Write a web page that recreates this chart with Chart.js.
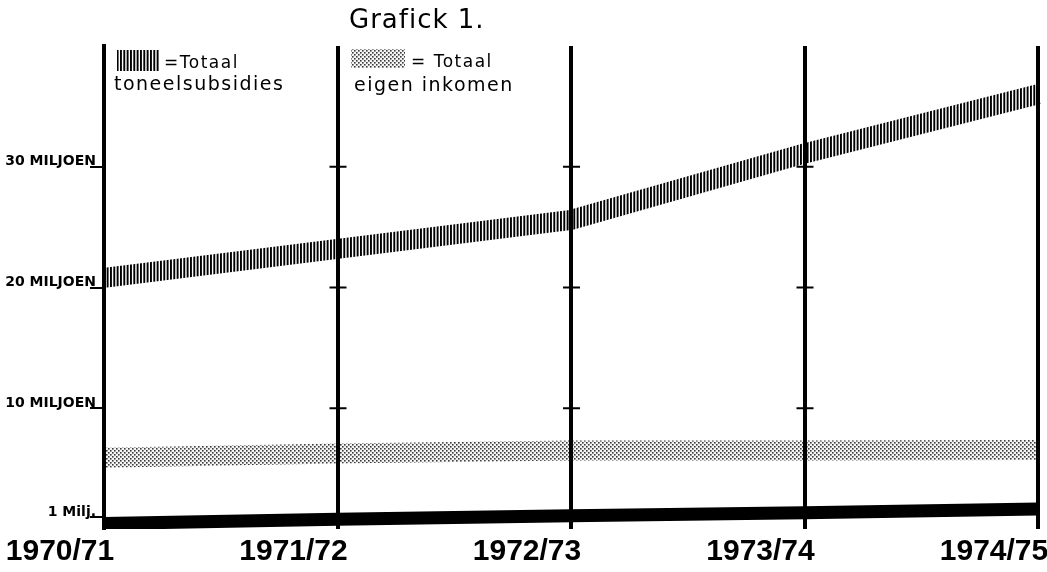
<!DOCTYPE html>
<html>
<head>
<meta charset="utf-8">
<script src="https://cdn.jsdelivr.net/npm/chart.js@4.4.1/dist/chart.umd.min.js"></script>
<style>
  html, body { margin: 0; padding: 0; background: #fff; }
  #wrap { width: 1047px; height: 572px; }
</style>
</head>
<body>
<div id="wrap"><canvas id="grafiek"></canvas></div>
<script>
// seizoenen
const seizoenen = ["1970/71", "1971/72", "1972/73", "1973/74", "1974/75"];
const toneelsubsidies = [20.8, 23.2, 25.6, 31.1, 36.0];
const eigenInkomen = [5.9, 6.25, 6.5, 6.5, 6.55];
const onderlijn = [0.45, 0.8, 1.1, 1.35, 1.65];
// y-as
const yTickWaarden = [1, 10, 20, 30];
const yTickTeksten = ["1 Milj.", "10 MILJOEN", "20 MILJOEN", "30 MILJOEN"];

const handFont = "'DejaVu Sans', sans-serif";

function maakStrepen() {
  let c = document.createElement("canvas");
  c.width = 10;
  c.height = 4;
  let ctx = c.getContext("2d");
  ctx.fillStyle = "#fff";
  ctx.fillRect(0, 0, 10, 4);
  ctx.fillStyle = "#000";
  ctx.fillRect(0, 0, 1.9, 4);
  ctx.fillRect(3.33, 0, 1.9, 4);
  ctx.fillRect(6.67, 0, 1.9, 4);
  return ctx.createPattern(c, "repeat");
}

function maakStippen() {
  let c = document.createElement("canvas");
  c.width = 4;
  c.height = 4;
  let ctx = c.getContext("2d");
  ctx.fillStyle = "#f4f4f4";
  ctx.fillRect(0, 0, 4, 4);
  ctx.fillStyle = "#3a3a3a";
  ctx.fillRect(0, 0, 1.6, 1.6);
  ctx.fillRect(2, 2, 1.6, 1.6);
  return ctx.createPattern(c, "repeat");
}

const strepen = maakStrepen();
const stippen = maakStippen();

// kleine dwarsstreepjes op de binnenste lijnen + titel + legenda
const extraTekening = {
  id: "extraTekening",
  afterDatasetsDraw(chart) {
    let ctx = chart.ctx;
    let x = chart.scales.x;
    let y = chart.scales.y;
    ctx.save();
    ctx.strokeStyle = "#000";
    ctx.lineWidth = 2;
    for (let i = 1; i < seizoenen.length - 1; i++) {
      let px = x.getPixelForValue(i);
      for (let v of [10, 20, 30]) {
        let py = y.getPixelForValue(v);
        ctx.beginPath();
        ctx.moveTo(px - 8, py);
        ctx.lineTo(px + 9, py);
        ctx.stroke();
      }
    }
    ctx.restore();
  },
  afterDraw(chart) {
    let ctx = chart.ctx;
    ctx.save();
    ctx.fillStyle = "#000";
    ctx.textBaseline = "alphabetic";
    ctx.font = "26px " + handFont;
    ctx.letterSpacing = "1px";
    ctx.textAlign = "left";
    ctx.fillText("Grafick 1.", 349, 28);

    ctx.fillStyle = strepen;
    ctx.fillRect(117, 50, 42, 21);
    ctx.fillStyle = stippen;
    ctx.fillRect(351, 49, 54, 19);

    ctx.fillStyle = "#000";
    ctx.letterSpacing = "1.5px";
    ctx.font = "17px " + handFont;
    ctx.fillText("=Totaal", 164, 68);
    ctx.fillText("= Totaal", 411, 67);
    ctx.font = "19px " + handFont;
    ctx.fillText("toneelsubsidies", 114, 90);
    ctx.fillText("eigen inkomen", 354, 91);
    ctx.restore();
  },
};

new Chart(document.getElementById("grafiek"), {
  type: "line",
  data: {
    labels: seizoenen,
    datasets: [
      {
        label: "Totaal toneelsubsidies",
        data: toneelsubsidies,
        borderColor: strepen,
        backgroundColor: "transparent",
        borderWidth: 20,
        borderCapStyle: "butt",
        pointRadius: 0,
        tension: 0,
        fill: false,
      },
      {
        label: "Totaal eigen inkomen",
        data: eigenInkomen,
        borderColor: stippen,
        backgroundColor: "transparent",
        borderWidth: 20,
        borderCapStyle: "butt",
        pointRadius: 0,
        tension: 0,
        fill: false,
      },
      {
        label: "1 Milj.",
        data: onderlijn,
        borderColor: "#000",
        backgroundColor: "transparent",
        borderWidth: 13,
        borderCapStyle: "butt",
        pointRadius: 0,
        tension: 0,
        fill: false,
      },
    ],
  },
  options: {
    responsive: true,
    maintainAspectRatio: false,
    animation: false,
    layout: {
      padding: { top: 46, right: 9, left: 0, bottom: 0 },
    },
    plugins: {
      legend: { display: false },
      tooltip: { enabled: false },
    },
    scales: {
      x: {
        offset: false,
        grid: {
          color: "#000",
          lineWidth: 4,
          drawTicks: false,
          z: 1,
        },
        border: { display: false },
        ticks: {
          color: "#000",
          font: { family: "'Liberation Sans', Arial, sans-serif", size: 30, weight: "bold" },
          maxRotation: 0,
          autoSkip: false,
          labelOffset: -44,
          padding: 5,
        },
        afterFit(scale) {
          scale.paddingLeft = 0;
          scale.paddingRight = 0;
          scale.height = 43;
        },
      },
      y: {
        min: 0,
        max: 40,
        afterBuildTicks(scale) {
          scale.ticks = yTickWaarden.map((v) => ({ value: v }));
        },
        grid: {
          drawOnChartArea: false,
          color: "#000",
          lineWidth: 2,
          tickLength: 14,
        },
        border: { display: true, color: "#000", width: 4, z: 1 },
        ticks: {
          color: "#000",
          padding: -6,
          labelOffset: -5,
          font: { family: handFont, size: 14, weight: "bold" },
          callback: function (value) {
            let i = yTickWaarden.indexOf(value);
            return i >= 0 ? yTickTeksten[i] : "";
          },
        },
        afterFit(scale) {
          scale.width = 104;
        },
      },
    },
  },
  plugins: [extraTekening],
});
</script>
</body>
</html>
